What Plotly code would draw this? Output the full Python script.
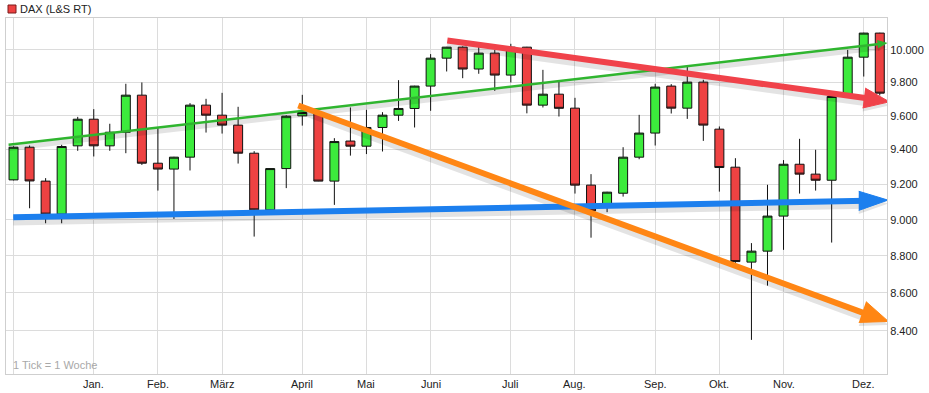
import math
import plotly.graph_objects as go

# ---- weekly candles (week index, OHLC) ----
weeks = list(range(55))
open_ = [9225, 9414, 9218, 9031, 9422, 9579, 9422, 9502, 9723, 9321,
         9287, 9356, 9663, 9603, 9544, 9379, 9055, 9290, 9599, 9619,
         9218, 9450, 9420, 9530, 9603, 9643, 9778, 9949, 10017, 9882,
         9980, 9845, 10017, 9663, 9729, 9645, 9195, 9072, 9149, 9356,
         9497, 9778, 9645, 9802, 9520, 9298, 8766, 8826, 9020, 9315,
         9258, 9223, 9719, 9955, 10105]
high = [9419, 9424, 9235, 9428, 9593, 9639, 9552, 9792, 9800, 9526,
        9358, 9675, 9701, 9737, 9653, 9391, 9291, 9602, 9725, 9626,
        9467, 9649, 9635, 9621, 9814, 9780, 9974, 10019, 10022, 10047,
        10000, 10038, 10019, 9877, 9814, 9707, 9258, 9157, 9414, 9605,
        9792, 9790, 9897, 9816, 9536, 9350, 8870, 9197, 9339, 9463,
        9399, 9716, 10000, 10107, 10107]
low = [9222, 9064, 8980, 8980, 9393, 9360, 9393, 9379, 9311, 9164,
       9004, 9279, 9500, 9494, 9319, 8906, 9052, 9178, 9541, 9217,
       9083, 9365, 9374, 9389, 9569, 9530, 9629, 9867, 9826, 9853,
       9749, 9800, 9614, 9649, 9595, 9147, 8900, 9042, 9130, 9344,
       9424, 9613, 9581, 9451, 9158, 8762, 8353, 8639, 8833, 9147,
       9164, 8873, 9716, 9836, 9721]
close = [9414, 9219, 9031, 9418, 9579, 9422, 9502, 9723, 9321, 9287,
         9356, 9663, 9603, 9544, 9379, 9055, 9290, 9597, 9619, 9218,
         9447, 9420, 9530, 9603, 9643, 9778, 9949, 10017, 9882, 9980,
         9845, 10017, 9663, 9729, 9644, 9195, 9049, 9155, 9356, 9497,
         9772, 9645, 9802, 9544, 9296, 8769, 8826, 9020, 9315, 9258,
         9223, 9715, 9955, 10105, 9735]

month_ticks = [0, 5, 9, 13, 18, 22, 26, 31, 35, 40, 44, 48, 53]
month_labels = ["", "Jan.", "Feb.", "März", "April", "Mai", "Juni", "Juli",
                "Aug.", "Sep.", "Okt.", "Nov.", "Dez."]
price_ticks = [8400, 8600, 8800, 9000, 9200, 9400, 9600, 9800, 10000, 10200]
price_labels = ["8.400", "8.600", "8.800", "9.000", "9.200", "9.400",
                "9.600", "9.800", "10.000", ""]
price_range = [8178, 10200]
week_range = [-0.47, 54.45]

# ---- drawn trend lines (week index, price): start -> end ----
green_x = [-0.31, 53.98]
green_y = [9428, 10037]
red_x = [27.04, 53.43]
red_y = [10059, 9701]
blue_x = [-0.02, 53.12]
blue_y = [9013, 9106]
orange_x = [17.75, 53.31]
orange_y = [9661, 8484]
# arrowheads: corner, tip, corner
green_head_x = [53.89, 54.42, 53.84]
green_head_y = [10014, 10042, 10058]
red_head_x = [53.09, 54.60, 52.93]
red_head_y = [9766, 9683, 9646]
blue_head_x = [52.69, 54.51, 52.69]
blue_head_y = [9160, 9110, 9052]
orange_head_x = [53.14, 54.54, 52.69]
orange_head_y = [8554, 8449, 8444]

fig = go.Figure()

fig.add_trace(go.Candlestick(
    x=weeks, open=open_, high=high, low=low, close=close,
    increasing=dict(line=dict(color="#111111", width=1), fillcolor="#3ceb3c"),
    decreasing=dict(line=dict(color="#111111", width=1), fillcolor="#ee4242"),
    whiskerwidth=0, showlegend=False, hoverinfo="skip",
))

lines = [
    (green_x, green_y, green_head_x, green_head_y, "#2fb52f", 2.5),
    (blue_x, blue_y, blue_head_x, blue_head_y, "#1c7fee", 6),
    (orange_x, orange_y, orange_head_x, orange_head_y, "#ff8614", 6),
    (red_x, red_y, red_head_x, red_head_y, "#f0424a", 6),
]
SHADOW = 0.9978
SHADOW_COL = "rgba(0,0,0,0.11)"
for xs, ys, hx, hy, col, w in lines:
    fig.add_trace(go.Scatter(
        x=xs, y=[v * SHADOW for v in ys], mode="lines",
        line=dict(color=SHADOW_COL, width=w + 3),
        showlegend=False, hoverinfo="skip"))
    fig.add_trace(go.Scatter(
        x=hx, y=[v * SHADOW for v in hy], mode="lines", fill="toself",
        fillcolor=SHADOW_COL, line=dict(width=0),
        showlegend=False, hoverinfo="skip"))
for xs, ys, hx, hy, col, w in lines:
    fig.add_trace(go.Scatter(
        x=xs, y=ys, mode="lines", line=dict(color=col, width=w),
        showlegend=False, hoverinfo="skip"))
    fig.add_trace(go.Scatter(
        x=hx, y=hy, mode="lines", fill="toself", fillcolor=col,
        line=dict(color=col, width=1),
        showlegend=False, hoverinfo="skip"))

annotations = [
    dict(text="DAX (L&amp;S RT)", xref="paper", yref="paper", x=0, y=1,
         xanchor="left", yanchor="middle", xshift=12, yshift=9, showarrow=False,
         font=dict(size=11, color="#222222")),
    dict(text="1 Tick = 1 Woche", xref="paper", yref="paper", x=0, y=0,
         xanchor="left", yanchor="bottom", xshift=5, yshift=1, showarrow=False,
         font=dict(size=11, color="#a8a8a8")),
]
for xv, lab in zip(month_ticks, month_labels):
    if lab:
        annotations.append(dict(text=lab, xref="x", yref="paper", x=xv, y=0,
                                xanchor="center", yanchor="top", yshift=-2,
                                showarrow=False,
                                font=dict(size=11, color="#222222")))

fig.update_layout(
    width=929, height=393,
    margin=dict(l=5, r=32, t=18, b=19),
    paper_bgcolor="white", plot_bgcolor="white",
    font=dict(family="Liberation Sans, Arial, sans-serif", size=11, color="#222222"),
    boxgap=0.2,
    xaxis=dict(range=week_range, tickvals=month_ticks, showticklabels=False,
               showgrid=True, gridcolor="#dcdcdc", gridwidth=1, zeroline=False,
               showline=True, mirror=True, linecolor="#cfcfcf", ticks="",
               rangeslider=dict(visible=False)),
    yaxis=dict(type="log", range=[math.log10(price_range[0]), math.log10(price_range[1])],
               side="right", tickvals=price_ticks, ticktext=price_labels,
               showgrid=True, gridcolor="#dcdcdc", gridwidth=1, zeroline=False,
               showline=True, mirror=True, linecolor="#cfcfcf", ticks="",
               tickfont=dict(size=11, color="#222222")),
    shapes=[dict(type="rect", xref="paper", yref="paper", xsizemode="pixel",
                 ysizemode="pixel", xanchor=0, yanchor=1, x0=2, x1=10, y0=5, y1=13,
                 fillcolor="#ee4242", line=dict(color="#7a1a1a", width=1))],
    annotations=annotations,
)

fig.write_html("out.html", config={"displayModeBar": False},
               post_script="document.body.style.margin='0';")
